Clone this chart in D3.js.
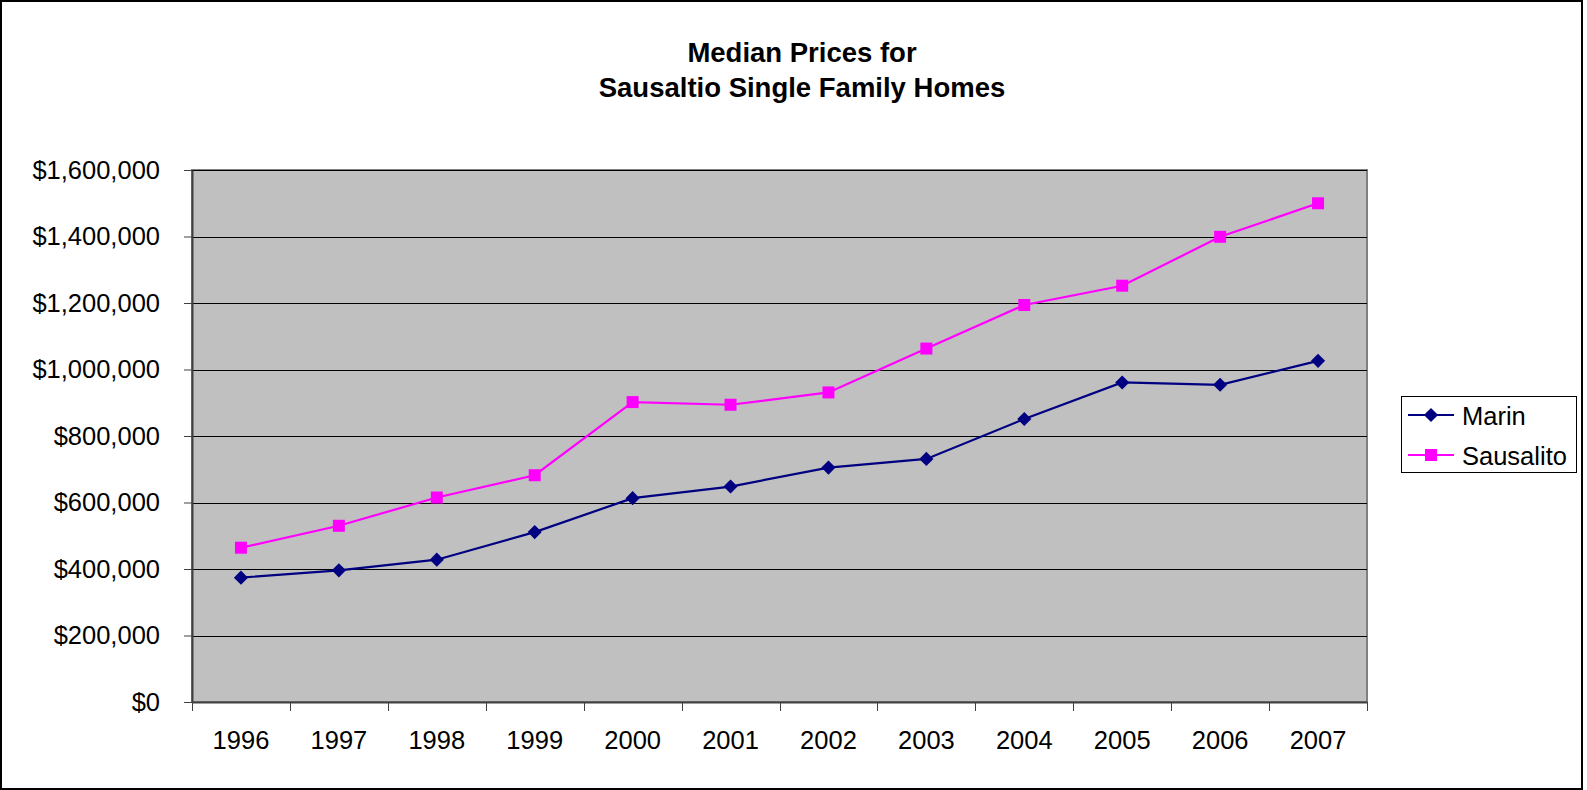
<!DOCTYPE html>
<html>
<head>
<meta charset="utf-8">
<script src="https://cdn.jsdelivr.net/npm/d3@7"></script>
<style>
  body { margin: 0; background: #fff; }
  svg { display: block; font-family: "Liberation Sans", Arial, sans-serif; }
</style>
</head>
<body>
<div id="chart"></div>
<script>
// data
var years = ["1996", "1997", "1998", "1999", "2000", "2001", "2002", "2003", "2004", "2005", "2006", "2007"];
var marin = [374000, 396000, 428000, 511000, 613000, 648000, 705000, 731000, 851000, 961000, 954000, 1026000];
var sausalito = [464000, 530000, 615000, 682000, 902000, 894000, 931000, 1063000, 1194000, 1252000, 1399000, 1500000];
var yTicks = [0, 200000, 400000, 600000, 800000, 1000000, 1200000, 1400000, 1600000];
var titleLines = ["Median Prices for", "Sausaltio Single Family Homes"];

var series = [
  {name: "Marin", values: marin, color: "#000080", shape: "diamond"},
  {name: "Sausalito", values: sausalito, color: "#FF00FF", shape: "square"}
];

// settings
var W = 1587, H = 790;
var plot = {left: 192, top: 170, right: 1367, bottom: 702};

var svg = d3.select("#chart")
  .append("svg")
  .attr("width", W)
  .attr("height", H);

// outer border
svg.append("rect")
  .attr("x", 1).attr("y", 1)
  .attr("width", 1581).attr("height", 788)
  .attr("fill", "#fff")
  .attr("stroke", "#000")
  .attr("stroke-width", 2);

// title
svg.append("text")
  .attr("text-anchor", "middle")
  .attr("font-weight", "bold")
  .attr("font-size", "27.5px")
  .selectAll("tspan")
  .data(titleLines)
  .enter().append("tspan")
    .attr("x", 802)
    .attr("y", function(d, i) { return 62 + i * 35; })
    .text(function(d) { return d; });

var x = d3.scaleBand()
  .domain(years)
  .range([plot.left, plot.right]);

var y = d3.scaleLinear()
  .domain([0, 1600000])
  .range([plot.bottom, plot.top]);

// plot background
svg.append("rect")
  .attr("x", plot.left).attr("y", plot.top)
  .attr("width", plot.right - plot.left)
  .attr("height", plot.bottom - plot.top)
  .attr("fill", "#C0C0C0")
  .attr("stroke", "#808080")
  .attr("stroke-width", 2);

// gridlines
svg.append("g")
  .selectAll("line")
  .data(yTicks.filter(function(d) { return d > 0; }))
  .enter().append("line")
    .attr("x1", plot.left).attr("x2", plot.right)
    .attr("y1", function(d) { return Math.round(y(d)) + 0.5; })
    .attr("y2", function(d) { return Math.round(y(d)) + 0.5; })
    .attr("stroke", "#000")
    .attr("stroke-width", 1);

// Y axis
var yAxis = svg.append("g")
  .attr("transform", "translate(" + plot.left + ",0)")
  .call(d3.axisLeft(y)
    .tickValues(yTicks)
    .tickFormat(d3.format("$,"))
    .tickSizeInner(8)
    .tickSizeOuter(0)
    .tickPadding(24));
yAxis.select(".domain").attr("stroke", "#404040").attr("stroke-width", 2);
yAxis.selectAll(".tick line").attr("stroke", "#404040");
yAxis.selectAll("text")
  .attr("font-size", "25.5px")
  .attr("font-family", "Liberation Sans, Arial, sans-serif")
  .attr("fill", "#000");

// X axis
var xAxis = svg.append("g")
  .attr("transform", "translate(0," + plot.bottom + ")")
  .call(d3.axisBottom(x).tickSize(0).tickPadding(29));
xAxis.select(".domain").attr("stroke", "#404040").attr("stroke-width", 2);
xAxis.selectAll("text")
  .attr("font-size", "25.5px")
  .attr("font-family", "Liberation Sans, Arial, sans-serif")
  .attr("fill", "#000");

// tick marks between categories
var bounds = years.map(function(d) { return x(d); }).concat([x.range()[1]]);
xAxis.selectAll(".bound")
  .data(bounds)
  .enter().append("line")
    .attr("class", "bound")
    .attr("x1", function(d) { return Math.round(d) + 0.5; })
    .attr("x2", function(d) { return Math.round(d) + 0.5; })
    .attr("y1", 0).attr("y2", 9)
    .attr("stroke", "#404040");

var cx = function(i) { return x(years[i]) + x.bandwidth() / 2; };

var line = d3.line()
  .x(function(d, i) { return cx(i); })
  .y(function(d) { return y(d); });

var diamond = d3.symbol(d3.symbolSquare, 100);
var square = d3.symbol(d3.symbolSquare, 144);

function marker(sel, s) {
  sel.append("path")
    .attr("d", s.shape === "diamond" ? diamond() : square())
    .attr("fill", s.color)
    .attr("stroke", "none");
  if (s.shape === "diamond") sel.select("path").attr("transform", "rotate(45)");
}

series.forEach(function(s) {
  svg.append("path")
    .datum(s.values)
    .attr("d", line)
    .attr("fill", "none")
    .attr("stroke", s.color)
    .attr("stroke-width", 2.2);

  svg.append("g")
    .selectAll("g")
    .data(s.values)
    .enter().append("g")
      .attr("transform", function(d, i) { return "translate(" + cx(i) + "," + y(d) + ")"; })
      .each(function() { marker(d3.select(this), s); });
});

// legend
var legend = svg.append("g");
legend.append("rect")
  .attr("x", 1401.5).attr("y", 396.5)
  .attr("width", 175).attr("height", 76)
  .attr("fill", "#fff")
  .attr("stroke", "#000")
  .attr("stroke-width", 1);

var items = legend.selectAll(".item")
  .data(series)
  .enter().append("g")
    .attr("class", "item")
    .attr("transform", function(d, i) { return "translate(0," + (415 + i * 40) + ")"; });

items.append("line")
  .attr("x1", 1408).attr("x2", 1454)
  .attr("stroke", function(d) { return d.color; })
  .attr("stroke-width", 2.2);

items.append("g")
  .attr("transform", "translate(1431,0)")
  .each(function(d) { marker(d3.select(this), d); });

items.append("text")
  .attr("x", 1462)
  .attr("y", 10)
  .attr("font-size", "25.5px")
  .text(function(d) { return d.name; });
</script>
</body>
</html>
